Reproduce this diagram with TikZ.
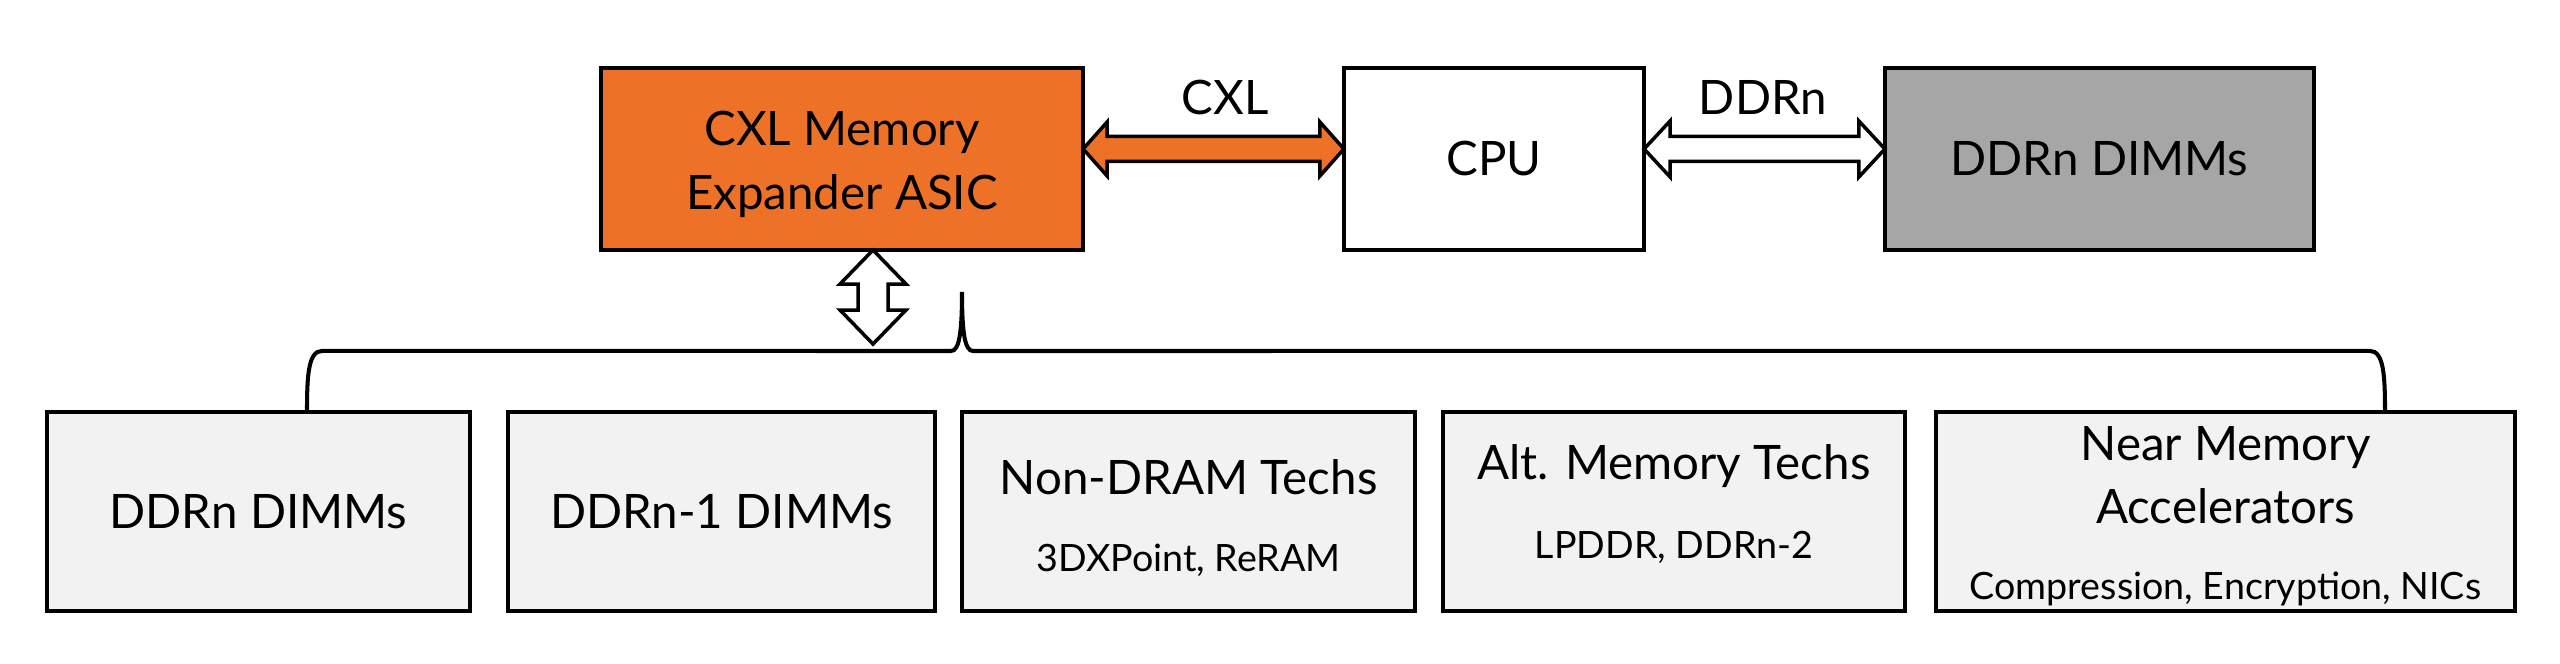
\documentclass[tikz,border=0pt]{standalone}
\usepackage{fontspec}
\setmainfont{Lato}
\usepackage{xcolor}
\usetikzlibrary{calc,positioning}
\definecolor{asicorange}{RGB}{237,114,40}
\definecolor{dimmgrey}{RGB}{166,166,166}
\definecolor{techgrey}{RGB}{242,242,242}

\begin{document}
\begin{tikzpicture}[x=0.01cm, y=0.01cm]
			\tikzstyle{every node}=[font=\fontsize{13.5}{18.2}\selectfont]
			\tikzstyle{topbox}=[draw, line width=1.15pt, outer sep=0pt, minimum height=1.82cm, inner sep=0pt]
			\tikzstyle{techbox}=[draw, line width=1.15pt, outer sep=0pt, minimum height=1.99cm, inner sep=0pt, fill=techgrey]
			\tikzstyle{mainlabel}=[anchor=base, inner sep=0pt]
			\tikzstyle{sublabel}=[anchor=base, inner sep=0pt, font=\fontsize{10.7}{13}\selectfont]
			\tikzstyle{fatarrow}=[draw, line width=1pt, line join=miter]
			\tikzstyle{bracket}=[draw, line width=1.15pt]
			\useasboundingbox (0,0) rectangle (2560,664);
			% top row
			\node [topbox, fill=asicorange, minimum width=4.82cm] (asic) at (842,505) {};
			\node [topbox, fill=white, minimum width=3.00cm] (cpu) at (1494,505) {CPU};
			\node [topbox, fill=dimmgrey, minimum width=4.29cm] (hostdimm) at (2099.5,505) {DDRn DIMMs};
			\node [mainlabel] (asicA) at (842,518.5) {CXL Memory};
			\node [mainlabel] (asicB) at (842,454.5) {Expander ASIC};
			\node [mainlabel] (cxllabel) at (1225,549.5) {CXL};
			\node [mainlabel] (ddrlabel) at (1763,549) {DDRn};
			% bottom row
			\node [techbox, minimum width=4.23cm] (dimm) at (258.5,152.5) {DDRn DIMMs};
			\node [techbox, minimum width=4.27cm] (olddimm) at (721.5,152.5) {DDRn-1 DIMMs};
			\node [techbox, minimum width=4.53cm] (nondram) at (1188.5,152.5) {};
			\node [techbox, minimum width=4.62cm] (altmem) at (1674,152.5) {};
			\node [techbox, minimum width=5.79cm] (nearmem) at (2225.5,152.5) {};
			\node [mainlabel] (nondramA) at (1188.5,169.5) {Non-DRAM Techs};
			\node [sublabel] (nondramB) at (1188.5,92.4) {3DXPoint, ReRAM};
			\node [mainlabel] (altmemA) at (1674,184.5) {Alt. Memory Techs};
			\node [sublabel] (altmemB) at (1674,105.4) {LPDDR, DDRn-2};
			\node [mainlabel] (nearmemA) at (2225.5,203.5) {Near Memory};
			\node [mainlabel] (nearmemB) at (2225.5,140.5) {Accelerators};
			\node [sublabel] (nearmemC) at (2225.5,64.4) {Compression, Encryption, NICs};
			% fat arrows
			\coordinate (cxlL) at ($(asic.east)+(0,10)$);
			\coordinate (cxlR) at ($(cpu.west)+(0,10)$);
			\draw [fatarrow, fill=asicorange] (cxlL) -- ++(24,27) -- ++(0,-14.5) -- ($(cxlR)+(-24,12.5)$) -- ++(0,14.5) -- (cxlR) -- ++(-24,-27) -- ++(0,14.5) -- ($(cxlL)+(24,-12.5)$) -- ++(0,-14.5) -- cycle;
			\coordinate (ddrL) at ($(cpu.east)+(0,10)$);
			\coordinate (ddrR) at ($(hostdimm.west)+(0,10)$);
			\draw [fatarrow, fill=white] (ddrL) -- ++(26,28) -- ++(0,-15.5) -- ($(ddrR)+(-26,12.5)$) -- ++(0,15.5) -- (ddrR) -- ++(-26,-28) -- ++(0,15.5) -- ($(ddrL)+(26,-12.5)$) -- ++(0,-15.5) -- cycle;
			\coordinate (vtop) at ($(asic.south)+(31,0)$);
			\coordinate (vbot) at ($(vtop)+(0,-94)$);
			\draw [fatarrow, fill=white] (vtop) -- ++(33,-34) -- ++(-18,0) -- ($(vbot)+(15,34)$) -- ++(18,0) -- (vbot) -- ++(-33,34) -- ++(18,0) -- ($(vtop)+(-15,-34)$) -- ++(-18,0) -- cycle;
			% bracket over the memory options
			\coordinate (legL) at ($(dimm.north)+(48.5,0)$);
			\coordinate (legR) at ($(nearmem.north)+(159.5,0)$);
			\coordinate (cusp) at (962,372);
			\draw [bracket] (legL) .. controls ($(legL)+(0,35)$) and ($(legL)+(1,61)$) .. ($(legL)+(15,61)$) -- ($(cusp)+(-11,-59)$) .. controls ($(cusp)+(-3,-59)$) and ($(cusp)+(0,-42)$) .. (cusp) .. controls ($(cusp)+(0,-42)$) and ($(cusp)+(3,-59)$) .. ($(cusp)+(11,-59)$) -- ($(legR)+(-15,61)$) .. controls ($(legR)+(-1,61)$) and ($(legR)+(0,35)$) .. (legR);
		\end{tikzpicture}
\end{document}
